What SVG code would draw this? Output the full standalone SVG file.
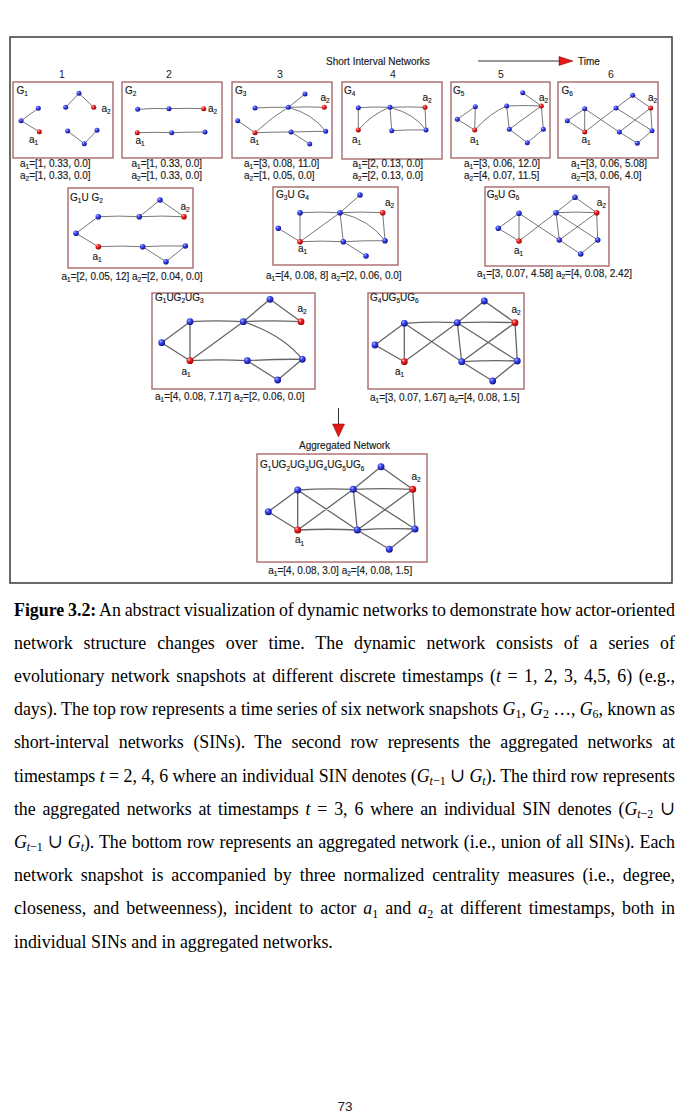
<svg xmlns="http://www.w3.org/2000/svg" width="689" height="1117" viewBox="0 0 689 1117">
<defs>
<radialGradient id="gb" cx="0.35" cy="0.32" r="0.7"><stop offset="0" stop-color="#b4bcff"/><stop offset="0.35" stop-color="#3d4cf2"/><stop offset="1" stop-color="#12128c"/></radialGradient>
<radialGradient id="gr" cx="0.35" cy="0.32" r="0.7"><stop offset="0" stop-color="#ffc0c0"/><stop offset="0.35" stop-color="#f02a2a"/><stop offset="1" stop-color="#9a0000"/></radialGradient>
<style>
.frame{fill:none;stroke:#3a3a3a;stroke-width:1.5}
.panel{fill:#fff;stroke:#a96a6a;stroke-width:1.4}
.e{fill:none;stroke:#777;stroke-width:1}
.e2{fill:none;stroke:#666;stroke-width:1.3}
.b{fill:url(#gb)}
.r{fill:url(#gr)}
.lbl{font-family:"Liberation Sans",Arial,sans-serif;font-size:10px;fill:#1a1a1a;stroke:#1a1a1a;stroke-width:0.15}
.num{font-family:"Liberation Sans",Arial,sans-serif;font-size:10.5px;fill:#1a1a1a;text-anchor:middle}
.s{font-size:6.5px}
.cap{font-family:"Liberation Serif","Times New Roman","DejaVu Serif",serif;font-size:17.9px;fill:#000}
.m{font-style:italic}
.cs{font-size:12px}
.arrow{stroke:#333;stroke-width:1;fill:none}
.head{fill:#e01818;stroke:#8a0000;stroke-width:0.5}
</style>
</defs>
<rect width="689" height="1117" fill="#fff"/>
<rect class="frame" x="10" y="37" width="662" height="546"/>

<text class="lbl" transform="matrix(1,0,0,1.1,326,65)">Short Interval Networks</text>
<text class="lbl" transform="matrix(1,0,0,1.1,578,65)">Time</text>
<g class="num">
<text transform="matrix(1,0,0,1.1,62,78)">1</text><text transform="matrix(1,0,0,1.1,169,78)">2</text><text transform="matrix(1,0,0,1.1,280,78)">3</text>
<text transform="matrix(1,0,0,1.1,393,78)">4</text><text transform="matrix(1,0,0,1.1,501,78)">5</text><text transform="matrix(1,0,0,1.1,611,78)">6</text>
</g>

<g id="connectors">
<line class="arrow" x1="478" y1="61" x2="561" y2="61"/>
<polygon class="head" points="559,56.5 573,61 559,65.5"/>
<line class="arrow" x1="338.5" y1="408" x2="338.5" y2="425"/>
<polygon class="head" points="332.5,424 344.5,424 338.5,437"/>
</g>

<!-- Panel 1 -->
<g id="G1">
<rect class="panel" x="13" y="82" width="100" height="76"/>
<g class="e">
<path d="M38.3,108.3L21,120.7M21,120.7L39.3,131.7M79,93.3L65.7,107.3M79,93.3L93.7,107.3M67.7,131L84.3,143.7M84.3,143.7L97,130.3"/>
</g>
<circle class="b" cx="38.3" cy="108.3" r="2.5"/><circle class="b" cx="21" cy="120.7" r="2.5"/><circle class="r" cx="39.3" cy="131.7" r="2.5"/>
<circle class="b" cx="79" cy="93.3" r="2.5"/><circle class="b" cx="65.7" cy="107.3" r="2.5"/><circle class="r" cx="93.7" cy="107.3" r="2.5"/>
<circle class="b" cx="67.7" cy="131" r="2.5"/><circle class="b" cx="97" cy="130.3" r="2.5"/><circle class="b" cx="84.3" cy="143.7" r="2.5"/>
<text class="lbl" transform="matrix(1,0,0,1.1,16.5,94)">G<tspan class="s" dy="2">1</tspan></text>
<text class="lbl" transform="matrix(1,0,0,1.1,101.5,112)">a<tspan class="s" dy="2">2</tspan></text>
<text class="lbl" transform="matrix(1,0,0,1.1,29,143)">a<tspan class="s" dy="2">1</tspan></text>
<text class="lbl" transform="matrix(1,0,0,1.1,20,167)">a<tspan class="s" dy="2">1</tspan><tspan dy="-2">=[1, 0.33, 0.0]</tspan></text>
<text class="lbl" transform="matrix(1,0,0,1.1,20,179)">a<tspan class="s" dy="2">2</tspan><tspan dy="-2">=[1, 0.33, 0.0]</tspan></text>
</g>

<!-- Panel 2 -->
<g id="G2">
<rect class="panel" x="122" y="82" width="100" height="76"/>
<g class="e">
<path d="M137.7,109.3Q153,108 169,108.7M169,108.7Q186,108 203.7,108.7M137.3,132.7Q154,132 171.7,132.7M171.7,132.7Q188,132 205,132"/>
</g>
<circle class="b" cx="137.7" cy="109.3" r="2.5"/><circle class="b" cx="169" cy="108.7" r="2.5"/><circle class="r" cx="203.7" cy="108.7" r="2.5"/>
<circle class="r" cx="137.3" cy="132.7" r="2.5"/><circle class="b" cx="171.7" cy="132.7" r="2.5"/><circle class="b" cx="205" cy="132" r="2.5"/>
<text class="lbl" transform="matrix(1,0,0,1.1,125,94)">G<tspan class="s" dy="2">2</tspan></text>
<text class="lbl" transform="matrix(1,0,0,1.1,208,112)">a<tspan class="s" dy="2">2</tspan></text>
<text class="lbl" transform="matrix(1,0,0,1.1,135.5,144)">a<tspan class="s" dy="2">1</tspan></text>
<text class="lbl" transform="matrix(1,0,0,1.1,131.5,167)">a<tspan class="s" dy="2">1</tspan><tspan dy="-2">=[1, 0.33, 0.0]</tspan></text>
<text class="lbl" transform="matrix(1,0,0,1.1,131.5,179)">a<tspan class="s" dy="2">2</tspan><tspan dy="-2">=[1, 0.33, 0.0]</tspan></text>
</g>

<!-- Panel 3 -->
<g id="G3">
<rect class="panel" x="232" y="82" width="100" height="76"/>
<g class="e">
<path d="M237.7,120.7L255,132.7M255,108Q272,107 288.3,107.3M288.3,107.3L305,94M288.3,107.3Q306,106.5 324.3,107.3M255,132.7Q272,117 288.3,107.3M255,132.7Q273,132 291,132M291,132Q308,131.5 325.7,131.3M291,132L309.7,144M288.3,107.3Q313,114 325.7,131.3"/>
</g>
<circle class="b" cx="237.7" cy="120.7" r="2.5"/><circle class="r" cx="255" cy="132.7" r="2.5"/><circle class="b" cx="255" cy="108" r="2.5"/>
<circle class="b" cx="288.3" cy="107.3" r="2.5"/><circle class="b" cx="305" cy="94" r="2.5"/><circle class="r" cx="324.3" cy="107.3" r="2.5"/>
<circle class="b" cx="291" cy="132" r="2.5"/><circle class="b" cx="325.7" cy="131.3" r="2.5"/><circle class="b" cx="309.7" cy="144" r="2.5"/>
<text class="lbl" transform="matrix(1,0,0,1.1,235,94)">G<tspan class="s" dy="2">3</tspan></text>
<text class="lbl" transform="matrix(1,0,0,1.1,320.5,101)">a<tspan class="s" dy="2">2</tspan></text>
<text class="lbl" transform="matrix(1,0,0,1.1,250,143)">a<tspan class="s" dy="2">1</tspan></text>
<text class="lbl" transform="matrix(1,0,0,1.1,244,167)">a<tspan class="s" dy="2">1</tspan><tspan dy="-2">=[3, 0.08, 11.0]</tspan></text>
<text class="lbl" transform="matrix(1,0,0,1.1,244,179)">a<tspan class="s" dy="2">2</tspan><tspan dy="-2">=[1, 0.05, 0.0]</tspan></text>
</g>

<!-- Panel 4 -->
<g id="G4">
<rect class="panel" x="342" y="82" width="100" height="77"/>
<g class="e">
<path d="M358.3,107.7L358.3,130M358.3,130Q372,114 390,107.3M358.3,107.7Q374,106.5 390,107.3M390,107.3Q408,106.5 425,107.3M390,107.3L391.7,130.7M391.7,130.7Q409,129.5 426,130M390,107.3Q415,114 426,130M425,107.3L426,130"/>
</g>
<circle class="b" cx="358.3" cy="107.7" r="2.5"/><circle class="r" cx="358.3" cy="130" r="2.5"/><circle class="b" cx="390" cy="107.3" r="2.5"/>
<circle class="r" cx="425" cy="107.3" r="2.5"/><circle class="b" cx="391.7" cy="130.7" r="2.5"/><circle class="b" cx="426" cy="130" r="2.5"/>
<text class="lbl" transform="matrix(1,0,0,1.1,344,94)">G<tspan class="s" dy="2">4</tspan></text>
<text class="lbl" transform="matrix(1,0,0,1.1,422.5,101)">a<tspan class="s" dy="2">2</tspan></text>
<text class="lbl" transform="matrix(1,0,0,1.1,352,143)">a<tspan class="s" dy="2">1</tspan></text>
<text class="lbl" transform="matrix(1,0,0,1.1,352.5,167)">a<tspan class="s" dy="2">1</tspan><tspan dy="-2">=[2, 0.13, 0.0]</tspan></text>
<text class="lbl" transform="matrix(1,0,0,1.1,352.5,179)">a<tspan class="s" dy="2">2</tspan><tspan dy="-2">=[2, 0.13, 0.0]</tspan></text>
</g>

<!-- Panel 5 -->
<g id="G5">
<rect class="panel" x="451" y="82" width="99" height="76"/>
<g class="e">
<path d="M457.3,119.3L475.3,106.7M457.3,119.3L474.7,130M475.3,106.7L474.7,130M474.7,130Q490,113 506.7,106M506.7,106Q524,105 541.3,106M522.7,92.7L541.3,106M506.7,106L509.3,129.3M509.3,129.3L541.3,106M541.3,106L543.3,129.3M543.3,129.3L527.3,142.7M509.3,129.3L527.3,142.7"/>
</g>
<circle class="b" cx="457.3" cy="119.3" r="2.5"/><circle class="b" cx="475.3" cy="106.7" r="2.5"/><circle class="r" cx="474.7" cy="130" r="2.5"/>
<circle class="b" cx="506.7" cy="106" r="2.5"/><circle class="b" cx="522.7" cy="92.7" r="2.5"/><circle class="r" cx="541.3" cy="106" r="2.5"/>
<circle class="b" cx="509.3" cy="129.3" r="2.5"/><circle class="b" cx="543.3" cy="129.3" r="2.5"/><circle class="b" cx="527.3" cy="142.7" r="2.5"/>
<text class="lbl" transform="matrix(1,0,0,1.1,453,94)">G<tspan class="s" dy="2">5</tspan></text>
<text class="lbl" transform="matrix(1,0,0,1.1,539,101)">a<tspan class="s" dy="2">2</tspan></text>
<text class="lbl" transform="matrix(1,0,0,1.1,470,143)">a<tspan class="s" dy="2">1</tspan></text>
<text class="lbl" transform="matrix(1,0,0,1.1,464,167)">a<tspan class="s" dy="2">1</tspan><tspan dy="-2">=[3, 0.06, 12.0]</tspan></text>
<text class="lbl" transform="matrix(1,0,0,1.1,464,179)">a<tspan class="s" dy="2">2</tspan><tspan dy="-2">=[4, 0.07, 11.5]</tspan></text>
</g>

<!-- Panel 6 -->
<g id="G6">
<rect class="panel" x="558" y="82" width="100" height="76"/>
<g class="e">
<path d="M567.3,120.7L584.7,108.7M567.3,120.7L584.7,132M584.7,108.7L584.7,132M584.7,108.7L619.3,132M584.7,132L616,108M616,108L632.7,95.3M632.7,95.3L650.7,108M616,108L652,130.7M650.7,108L619.3,132M650.7,108L652,130.7M619.3,132L637.3,143.3M637.3,143.3L652,130.7"/>
</g>
<circle class="b" cx="567.3" cy="120.7" r="2.5"/><circle class="b" cx="584.7" cy="108.7" r="2.5"/><circle class="r" cx="584.7" cy="132" r="2.5"/>
<circle class="b" cx="616" cy="108" r="2.5"/><circle class="b" cx="632.7" cy="95.3" r="2.5"/><circle class="r" cx="650.7" cy="108" r="2.5"/>
<circle class="b" cx="619.3" cy="132" r="2.5"/><circle class="b" cx="652" cy="130.7" r="2.5"/><circle class="b" cx="637.3" cy="143.3" r="2.5"/>
<text class="lbl" transform="matrix(1,0,0,1.1,561.5,94)">G<tspan class="s" dy="2">6</tspan></text>
<text class="lbl" transform="matrix(1,0,0,1.1,648,101)">a<tspan class="s" dy="2">2</tspan></text>
<text class="lbl" transform="matrix(1,0,0,1.1,581.5,143)">a<tspan class="s" dy="2">1</tspan></text>
<text class="lbl" transform="matrix(1,0,0,1.1,571,167)">a<tspan class="s" dy="2">1</tspan><tspan dy="-2">=[3, 0.06, 5.08]</tspan></text>
<text class="lbl" transform="matrix(1,0,0,1.1,571,179)">a<tspan class="s" dy="2">2</tspan><tspan dy="-2">=[3, 0.06, 4.0]</tspan></text>
</g>

<!-- G1 U G2 -->
<g id="G1UG2">
<rect class="panel" x="68" y="188" width="125" height="80"/>
<g class="e">
<path d="M76,233.3L98.3,216.7M76,233.3L98.3,246.7M98.3,216.7Q119,215.5 139.3,216.7M139.3,216.7L160,200M160,200L184,216.7M139.3,216.7Q162,215.5 184,216.7M98.3,246.7Q121,245.5 142.7,246.7M142.7,246.7Q164,245.5 185.3,246M142.7,246.7L166,261.7M166,261.7L185.3,246"/>
</g>
<circle class="b" cx="76" cy="233.3" r="2.8"/><circle class="b" cx="98.3" cy="216.7" r="2.8"/><circle class="b" cx="139.3" cy="216.7" r="2.8"/>
<circle class="b" cx="160" cy="200" r="2.8"/><circle class="r" cx="184" cy="216.7" r="2.8"/><circle class="r" cx="98.3" cy="246.7" r="2.8"/>
<circle class="b" cx="142.7" cy="246.7" r="2.8"/><circle class="b" cx="185.3" cy="246" r="2.8"/><circle class="b" cx="166" cy="261.7" r="2.8"/>
<text class="lbl" transform="matrix(1,0,0,1.1,70,200.5)">G<tspan class="s" dy="2">1</tspan><tspan dy="-2">U G</tspan><tspan class="s" dy="2">2</tspan></text>
<text class="lbl" transform="matrix(1,0,0,1.1,180.5,210)">a<tspan class="s" dy="2">2</tspan></text>
<text class="lbl" transform="matrix(1,0,0,1.1,92.5,260)">a<tspan class="s" dy="2">1</tspan></text>
<text class="lbl" transform="matrix(1,0,0,1.1,61.5,280)">a<tspan class="s" dy="2">1</tspan><tspan dy="-2">=[2, 0.05, 12] a</tspan><tspan class="s" dy="2">2</tspan><tspan dy="-2">=[2, 0.04, 0.0]</tspan></text>
</g>

<!-- G3 U G4 -->
<g id="G3UG4">
<rect class="panel" x="273" y="187" width="125" height="78"/>
<g class="e">
<path d="M340,212.7L360,195M300,212.7Q320,211.5 340,212.7M340,212.7Q361,211.5 382.7,212.7M382.7,212.7L385,240.7M300,212.7L300,241.7M278.3,228.3L300,241.7M300,241.7L340,212.7M300,241.7Q322,240.5 343.3,241.7M340,212.7L343.3,241.7M343.3,241.7Q364,240.5 385,240.7M340,212.7Q370,220 385,240.7M343.3,241.7L366,256"/>
</g>
<circle class="b" cx="360" cy="195" r="2.8"/><circle class="b" cx="300" cy="212.7" r="2.8"/><circle class="b" cx="340" cy="212.7" r="2.8"/>
<circle class="r" cx="382.7" cy="212.7" r="2.8"/><circle class="b" cx="278.3" cy="228.3" r="2.8"/><circle class="r" cx="300" cy="241.7" r="2.8"/>
<circle class="b" cx="343.3" cy="241.7" r="2.8"/><circle class="b" cx="385" cy="240.7" r="2.8"/><circle class="b" cx="366" cy="256" r="2.8"/>
<text class="lbl" transform="matrix(1,0,0,1.1,276,197.5)">G<tspan class="s" dy="2">3</tspan><tspan dy="-2">U G</tspan><tspan class="s" dy="2">4</tspan></text>
<text class="lbl" transform="matrix(1,0,0,1.1,385,206)">a<tspan class="s" dy="2">2</tspan></text>
<text class="lbl" transform="matrix(1,0,0,1.1,298,252)">a<tspan class="s" dy="2">1</tspan></text>
<text class="lbl" transform="matrix(1,0,0,1.1,266,278.5)">a<tspan class="s" dy="2">1</tspan><tspan dy="-2">=[4, 0.08, 8] a</tspan><tspan class="s" dy="2">2</tspan><tspan dy="-2">=[2, 0.06, 0.0]</tspan></text>
</g>

<!-- G5 U G6 -->
<g id="G5UG6">
<rect class="panel" x="485" y="187" width="124" height="79"/>
<g class="e">
<path d="M498.3,228.3L519,213.3M498.3,228.3L519,241M519,213.3L519,241M519,213.3L559.3,240M519,241L556,212.7M556,212.7L575,197.3M575,197.3L596.7,212.7M556,212.7Q576,211.5 596.7,212.7M556,212.7L559.3,240M556,212.7L597.7,240M596.7,212.7L559.3,240M596.7,212.7L597.7,240M559.3,240L580.7,254M580.7,254L597.7,240"/>
</g>
<circle class="b" cx="498.3" cy="228.3" r="2.8"/><circle class="b" cx="519" cy="213.3" r="2.8"/><circle class="r" cx="519" cy="241" r="2.8"/>
<circle class="b" cx="556" cy="212.7" r="2.8"/><circle class="b" cx="575" cy="197.3" r="2.8"/><circle class="r" cx="596.7" cy="212.7" r="2.8"/>
<circle class="b" cx="559.3" cy="240" r="2.8"/><circle class="b" cx="597.7" cy="240" r="2.8"/><circle class="b" cx="580.7" cy="254" r="2.8"/>
<text class="lbl" transform="matrix(1,0,0,1.1,486.7,198)">G<tspan class="s" dy="2">5</tspan><tspan dy="-2">U G</tspan><tspan class="s" dy="2">6</tspan></text>
<text class="lbl" transform="matrix(1,0,0,1.1,596.7,206)">a<tspan class="s" dy="2">2</tspan></text>
<text class="lbl" transform="matrix(1,0,0,1.1,514,254)">a<tspan class="s" dy="2">1</tspan></text>
<text class="lbl" transform="matrix(1,0,0,1.1,477,277)">a<tspan class="s" dy="2">1</tspan><tspan dy="-2">=[3, 0.07, 4.58] a</tspan><tspan class="s" dy="2">2</tspan><tspan dy="-2">=[4, 0.08, 2.42]</tspan></text>
</g>

<!-- G1UG2UG3 -->
<g id="G1UG2UG3">
<rect class="panel" x="152" y="293" width="163" height="96"/>
<g class="e2">
<path d="M161.7,342.7L190,321.7M161.7,342.7L190,360.7M190,321.7L190,360.7M190,321.7Q217,320 243.3,321.7M190,360.7L243.3,321.7M243.3,321.7L270,299.3M270,299.3L301,321.7M243.3,321.7Q272,320 301,321.7M243.3,321.7Q283,335 302.3,359.3M190,360.7Q219,359 247.3,360.7M247.3,360.7Q275,359 302.3,359.3M247.3,360.7L277.7,380M277.7,380L302.3,359.3"/>
</g>
<circle class="b" cx="161.7" cy="342.7" r="3.4"/><circle class="b" cx="190" cy="321.7" r="3.4"/><circle class="r" cx="190" cy="360.7" r="3.4"/>
<circle class="b" cx="243.3" cy="321.7" r="3.4"/><circle class="b" cx="270" cy="299.3" r="3.4"/><circle class="r" cx="301" cy="321.7" r="3.4"/>
<circle class="b" cx="247.3" cy="360.7" r="3.4"/><circle class="b" cx="302.3" cy="359.3" r="3.4"/><circle class="b" cx="277.7" cy="380" r="3.4"/>
<text class="lbl" transform="matrix(1,0,0,1.1,155,300.7)">G<tspan class="s" dy="2">1</tspan><tspan dy="-2">UG</tspan><tspan class="s" dy="2">2</tspan><tspan dy="-2">UG</tspan><tspan class="s" dy="2">3</tspan></text>
<text class="lbl" transform="matrix(1,0,0,1.1,297.5,311.7)">a<tspan class="s" dy="2">2</tspan></text>
<text class="lbl" transform="matrix(1,0,0,1.1,181.5,375)">a<tspan class="s" dy="2">1</tspan></text>
<text class="lbl" transform="matrix(1,0,0,1.1,155,400)">a<tspan class="s" dy="2">1</tspan><tspan dy="-2">=[4, 0.08, 7.17] a</tspan><tspan class="s" dy="2">2</tspan><tspan dy="-2">=[2, 0.06, 0.0]</tspan></text>
</g>

<!-- G4UG5UG6 -->
<g id="G4UG5UG6">
<rect class="panel" x="368" y="293" width="156" height="96"/>
<g class="e2">
<path d="M375,345L404.3,323.3M375,345L404.3,361.7M404.3,323.3L404.3,361.7M404.3,323.3Q431,321.5 457.3,322.7M404.3,323.3L461.7,361.7M404.3,361.7L457.3,322.7M457.3,322.7L484.3,301M484.3,301L515,322.7M457.3,322.7Q486,321.5 515,322.7M457.3,322.7L461.7,361.7M457.3,322.7L517.3,361M515,322.7L461.7,361.7M515,322.7L517.3,361M461.7,361.7Q490,360 517.3,361M461.7,361.7L492.7,381M492.7,381L517.3,361"/>
</g>
<circle class="b" cx="375" cy="345" r="3.4"/><circle class="b" cx="404.3" cy="323.3" r="3.4"/><circle class="r" cx="404.3" cy="361.7" r="3.4"/>
<circle class="b" cx="457.3" cy="322.7" r="3.4"/><circle class="b" cx="484.3" cy="301" r="3.4"/><circle class="r" cx="515" cy="322.7" r="3.4"/>
<circle class="b" cx="461.7" cy="361.7" r="3.4"/><circle class="b" cx="517.3" cy="361" r="3.4"/><circle class="b" cx="492.7" cy="381" r="3.4"/>
<text class="lbl" transform="matrix(1,0,0,1.1,370,300.7)">G<tspan class="s" dy="2">4</tspan><tspan dy="-2">UG</tspan><tspan class="s" dy="2">5</tspan><tspan dy="-2">UG</tspan><tspan class="s" dy="2">6</tspan></text>
<text class="lbl" transform="matrix(1,0,0,1.1,511.5,312.7)">a<tspan class="s" dy="2">2</tspan></text>
<text class="lbl" transform="matrix(1,0,0,1.1,395,375)">a<tspan class="s" dy="2">1</tspan></text>
<text class="lbl" transform="matrix(1,0,0,1.1,370,400.5)">a<tspan class="s" dy="2">1</tspan><tspan dy="-2">=[3, 0.07, 1.67] a</tspan><tspan class="s" dy="2">2</tspan><tspan dy="-2">=[4, 0.08, 1.5]</tspan></text>
</g>

<!-- Aggregated -->
<text class="lbl" transform="matrix(1,0,0,1.1,299,449)">Aggregated Network</text>
<g id="Aggregated">
<rect class="panel" x="257" y="454" width="170" height="108"/>
<g class="e2">
<path d="M268.3,511.7L297.7,490M268.3,511.7L297.7,530M297.7,490L297.7,530M297.7,490Q326,488 353.3,489.3M297.7,490L357.3,530M297.7,530L353.3,489.3M297.7,530Q328,528.5 357.3,530M353.3,489.3L381,466.7M381,466.7L412.7,489.3M353.3,489.3Q383,488 412.7,489.3M353.3,489.3L357.3,530M353.3,489.3L415,529M412.7,489.3L357.3,530M412.7,489.3L415,529M357.3,530Q386,528 415,529M357.3,530L389.3,549.3M389.3,549.3L415,529"/>
</g>
<circle class="b" cx="268.3" cy="511.7" r="3.5"/><circle class="b" cx="297.7" cy="490" r="3.5"/><circle class="r" cx="297.7" cy="530" r="3.5"/>
<circle class="b" cx="353.3" cy="489.3" r="3.5"/><circle class="b" cx="381" cy="466.7" r="3.5"/><circle class="r" cx="412.7" cy="489.3" r="3.5"/>
<circle class="b" cx="357.3" cy="530" r="3.5"/><circle class="b" cx="415" cy="529" r="3.5"/><circle class="b" cx="389.3" cy="549.3" r="3.5"/>
<text class="lbl" transform="matrix(1,0,0,1.1,260,468.3)">G<tspan class="s" dy="2">1</tspan><tspan dy="-2">UG</tspan><tspan class="s" dy="2">2</tspan><tspan dy="-2">UG</tspan><tspan class="s" dy="2">3</tspan><tspan dy="-2">UG</tspan><tspan class="s" dy="2">4</tspan><tspan dy="-2">UG</tspan><tspan class="s" dy="2">5</tspan><tspan dy="-2">UG</tspan><tspan class="s" dy="2">6</tspan></text>
<text class="lbl" transform="matrix(1,0,0,1.1,411.5,480)">a<tspan class="s" dy="2">2</tspan></text>
<text class="lbl" transform="matrix(1,0,0,1.1,295,543.3)">a<tspan class="s" dy="2">1</tspan></text>
<text class="lbl" transform="matrix(1,0,0,1.1,268.3,574)">a<tspan class="s" dy="2">1</tspan><tspan dy="-2">=[4, 0.08, 3.0] a</tspan><tspan class="s" dy="2">2</tspan><tspan dy="-2">=[4, 0.08, 1.5]</tspan></text>
</g>

<!-- Caption -->
<g id="caption" class="cap">
<text transform="matrix(1,0,0,1.1,14,615.5)" x="0" y="0" word-spacing="-0.7" textLength="661" lengthAdjust="spacing"><tspan font-weight="bold">Figure 3.2:</tspan> An abstract visualization of dynamic networks to demonstrate how actor-oriented</text>
<text transform="matrix(1,0,0,1.1,14,648.7)" x="0" y="0" word-spacing="6.4" textLength="661" lengthAdjust="spacing">network structure changes over time. The dynamic network consists of a series of</text>
<text transform="matrix(1,0,0,1.1,14,681.9)" x="0" y="0" word-spacing="2" textLength="661" lengthAdjust="spacing">evolutionary network snapshots at different discrete timestamps (<tspan class="m">t</tspan> = 1, 2, 3, 4,5, 6) (e.g.,</text>
<text transform="matrix(1,0,0,1.1,14,715.1)" x="0" y="0" word-spacing="-0.3" textLength="661" lengthAdjust="spacing">days). The top row represents a time series of six network snapshots <tspan class="m">G</tspan><tspan class="cs" dy="3">1</tspan><tspan dy="-3">, </tspan><tspan class="m">G</tspan><tspan class="cs" dy="3">2</tspan><tspan dy="-3"> …, </tspan><tspan class="m">G</tspan><tspan class="cs" dy="3">6</tspan><tspan dy="-3">, known as</tspan></text>
<text transform="matrix(1,0,0,1.1,14,748.3)" x="0" y="0" word-spacing="5.3" textLength="661" lengthAdjust="spacing">short-interval networks (SINs). The second row represents the aggregated networks at</text>
<text transform="matrix(1,0,0,1.1,14,781.5)" x="0" y="0" word-spacing="0" textLength="661" lengthAdjust="spacing">timestamps <tspan class="m">t</tspan> = 2, 4, 6 where an individual SIN denotes (<tspan class="m">G</tspan><tspan class="cs m" dy="3">t</tspan><tspan class="cs">−1</tspan><tspan dy="-3"> ∪ </tspan><tspan class="m">G</tspan><tspan class="cs m" dy="3">t</tspan><tspan dy="-3">). The third row represents</tspan></text>
<text transform="matrix(1,0,0,1.1,14,814.7)" x="0" y="0" word-spacing="2.6" textLength="661" lengthAdjust="spacing">the aggregated networks at timestamps <tspan class="m">t</tspan> = 3, 6 where an individual SIN denotes (<tspan class="m">G</tspan><tspan class="cs m" dy="3">t</tspan><tspan class="cs">−2</tspan><tspan dy="-3"> ∪</tspan></text>
<text transform="matrix(1,0,0,1.1,14,847.9)" x="0" y="0" word-spacing="0.8" textLength="661" lengthAdjust="spacing"><tspan class="m">G</tspan><tspan class="cs m" dy="3">t</tspan><tspan class="cs">−1</tspan><tspan dy="-3"> ∪ </tspan><tspan class="m">G</tspan><tspan class="cs m" dy="3">t</tspan><tspan dy="-3">). The bottom row represents an aggregated network (i.e., union of all SINs). Each</tspan></text>
<text transform="matrix(1,0,0,1.1,14,881.1)" x="0" y="0" word-spacing="3.5" textLength="661" lengthAdjust="spacing">network snapshot is accompanied by three normalized centrality measures (i.e., degree,</text>
<text transform="matrix(1,0,0,1.1,14,914.3)" x="0" y="0" word-spacing="2.6" textLength="661" lengthAdjust="spacing">closeness, and betweenness), incident to actor <tspan class="m">a</tspan><tspan class="cs" dy="3">1</tspan><tspan dy="-3"> and </tspan><tspan class="m">a</tspan><tspan class="cs" dy="3">2</tspan><tspan dy="-3"> at different timestamps, both in</tspan></text>
<text transform="matrix(1,0,0,1.1,14,947.5)" x="0" y="0">individual SINs and in aggregated networks.</text>
</g>

<text x="345" y="1111" text-anchor="middle" font-family="'Liberation Sans',Arial,sans-serif" font-size="13.5" fill="#222">73</text>
</svg>
